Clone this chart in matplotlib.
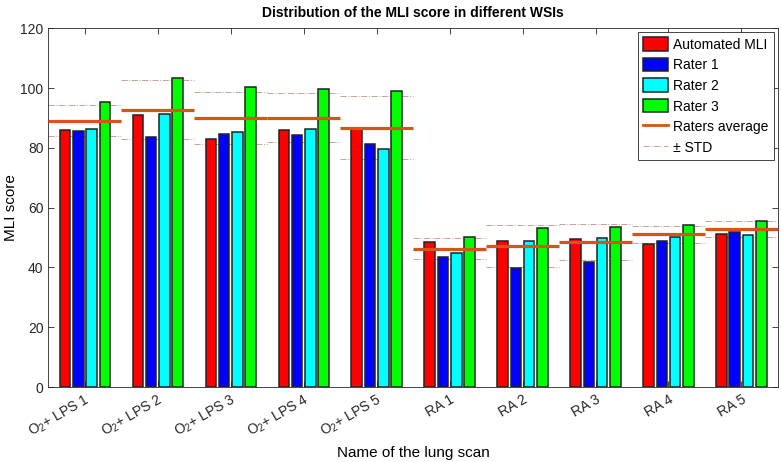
import numpy as np
import matplotlib
matplotlib.use("Agg")
import matplotlib.pyplot as plt
from matplotlib.patches import Patch
from matplotlib.lines import Line2D

plt.rcParams["font.family"] = ["Liberation Sans", "DejaVu Sans"]
plt.rcParams["mathtext.default"] = "regular"

# scan names and scores
scans = ["O$_2$+ LPS 1", "O$_2$+ LPS 2", "O$_2$+ LPS 3", "O$_2$+ LPS 4", "O$_2$+ LPS 5",
         "RA 1", "RA 2", "RA 3", "RA 4", "RA 5"]
automated = [85.9, 90.9, 83.0, 86.0, 86.3, 48.5, 48.7, 49.5, 47.7, 51.3]
rater1 = [85.6, 83.7, 84.6, 84.4, 81.4, 43.5, 39.9, 41.8, 48.9, 51.7]
rater2 = [86.4, 91.3, 85.3, 86.3, 79.7, 44.7, 48.7, 49.9, 50.3, 50.9]
rater3 = [95.2, 103.3, 100.2, 99.6, 98.9, 50.2, 53.2, 53.6, 54.2, 55.7]
raters_avg = [89.1, 92.8, 90.0, 90.1, 86.7, 46.2, 47.2, 48.4, 51.1, 52.8]
raters_std = [5.3, 10.0, 8.8, 8.3, 10.5, 3.5, 7.0, 6.0, 2.8, 2.6]

series = [automated, rater1, rater2, rater3]
names = ["Automated MLI", "Rater 1", "Rater 2", "Rater 3"]
colors = ["#ff0000", "#0000ff", "#00ffff", "#00ff00"]
avg_color = "#d95319"
std_color = "#c9a394"

fig = plt.figure(figsize=(7.81, 4.62), dpi=100)
ax = fig.add_axes([0.062, 0.162, 0.934, 0.777])

x = np.arange(1, len(scans) + 1)
pitch = 0.182
width = 0.145
for i, (vals, c) in enumerate(zip(series, colors)):
    ax.bar(x + (i - 1.5) * pitch, vals, width=width, color=c,
           edgecolor="#222222", linewidth=1.1, zorder=2)

avg = np.array(raters_avg)
std = np.array(raters_std)
ax.hlines(avg, x - 0.5, x + 0.5, color=avg_color, linewidth=2.3, zorder=3)
ax.hlines(avg + std, x - 0.5, x + 0.5, color=std_color, linewidth=0.7,
          linestyles="-.", zorder=1)
ax.hlines(avg - std, x - 0.5, x + 0.5, color=std_color, linewidth=0.7,
          linestyles="-.", zorder=1)

ax.set_xlim(0.5, 10.5)
ax.set_ylim(0, 120)
ax.set_yticks(np.arange(0, 121, 20))
ax.set_xticks(x)
ax.set_xticklabels(scans, rotation=30, ha="right", rotation_mode="anchor", fontsize=10)
ax.tick_params(axis="both", direction="in", top=True, right=True, length=4,
               width=0.6, labelsize=10, colors="#262626")
for s in ax.spines.values():
    s.set_linewidth(0.6)
    s.set_color("#262626")

ax.set_title("Distribution of the MLI score in different WSIs", fontsize=10,
             fontweight="bold", pad=8)
ax.set_xlabel("Name of the lung scan", fontsize=11)
ax.set_ylabel("MLI score", fontsize=11, labelpad=2)

handles = [Patch(facecolor=c, edgecolor="#222222", linewidth=1.1) for c in colors]
handles.append(Line2D([], [], color=avg_color, linewidth=2))
handles.append(Line2D([], [], color=std_color, linewidth=0.7, linestyle="-."))
labels = names + ["Raters average", "\u00b1 STD"]
leg = ax.legend(handles, labels, loc="upper right", fontsize=10, fancybox=False,
                framealpha=1, edgecolor="#262626", handlelength=1.8,
                handleheight=1.1, handletextpad=0.4, labelspacing=0.45,
                borderpad=0.35, borderaxespad=0.3)
leg.get_frame().set_linewidth(0.6)

fig.savefig("out.png", dpi=100)
